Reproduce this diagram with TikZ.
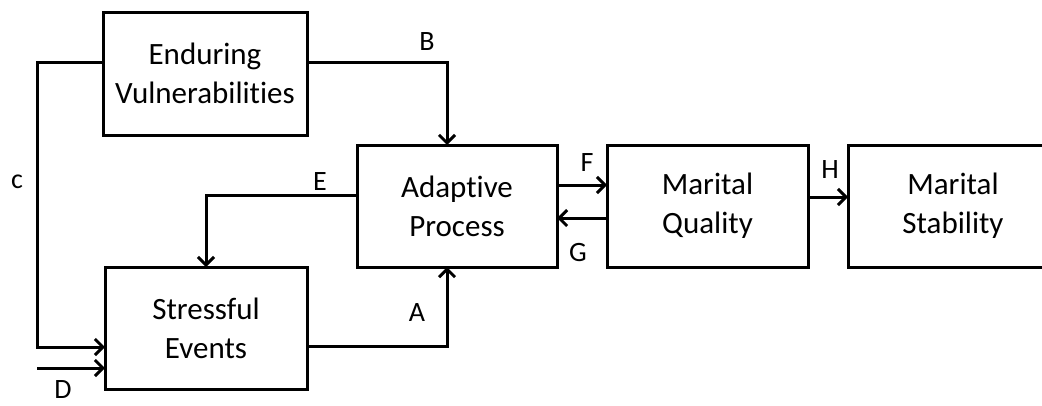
\documentclass[tikz,border=0pt]{standalone}
\usepackage{fontspec}
\setmainfont{Carlito}[Ligatures=NoCommon]
\usetikzlibrary{arrows.meta}
\begin{document}
\begin{tikzpicture}[x=1pt,y=-1pt,
  box/.style={draw,line width=3pt,rectangle,inner sep=0pt,outer sep=0pt,align=center,
    font=\fontsize{31}{39}\selectfont},
  conn/.style={line width=3pt,line join=miter},
  arr/.style={conn,-{Straight Barb[length=8pt,width=16pt,line width=3pt]}},
  lbl/.style={font=\fontsize{28}{30}\selectfont,inner sep=0pt}]
\useasboundingbox (0,0) rectangle (1042,405);
\node[box,minimum width=204pt,minimum height=123pt] (ev) at (205,73.5) {Enduring\\Vulnerabilities};
\node[box,minimum width=200pt,minimum height=122pt] (ap) at (457,206) {Adaptive\\Process};
\node[box,minimum width=201pt,minimum height=122pt] (mq) at (707.5,206) {Marital\\Quality};
\node[box,minimum width=210pt,minimum height=122pt] (ms) at (953,206) {Marital\\Stability};
\node[box,minimum width=202pt,minimum height=122pt] (se) at (206,328) {Stressful\\Events};
\coordinate (dstart) at (37,368);
% connectors
\draw[arr] ([yshift=11.5pt]ev.east) -| ([xshift=-10pt]ap.north);
\draw[arr] ([yshift=11.5pt]ev.west) -| ([xshift=-68pt,yshift=-19pt]se.west) -- ([yshift=-19pt]se.west);
\draw[arr] (dstart) -- (dstart -| se.west);
\draw[arr] ([yshift=11pt]ap.west) -| (se.north);
\draw[arr] ([yshift=-18pt]se.east) -| ([xshift=-10pt]ap.south);
\draw[arr] ([yshift=21pt]ap.east) -- ([yshift=21pt]mq.west);
\draw[arr] ([yshift=-12pt]mq.west) -- ([yshift=-12pt]ap.east);
\draw[arr] ([yshift=9pt]mq.east) -- ([yshift=9pt]ms.west);
% labels
\node[lbl] (lB) at (427,42) {B};
\node[lbl] (lC) at (17,182) {c};
\node[lbl] (lE) at (320,182) {E};
\node[lbl] (lA) at (417,313) {A};
\node[lbl] (lD) at (63,390) {D};
\node[lbl] (lF) at (587,163) {F};
\node[lbl] (lG) at (578,253) {G};
\node[lbl] (lH) at (830,170) {H};
\end{tikzpicture}
\end{document}
